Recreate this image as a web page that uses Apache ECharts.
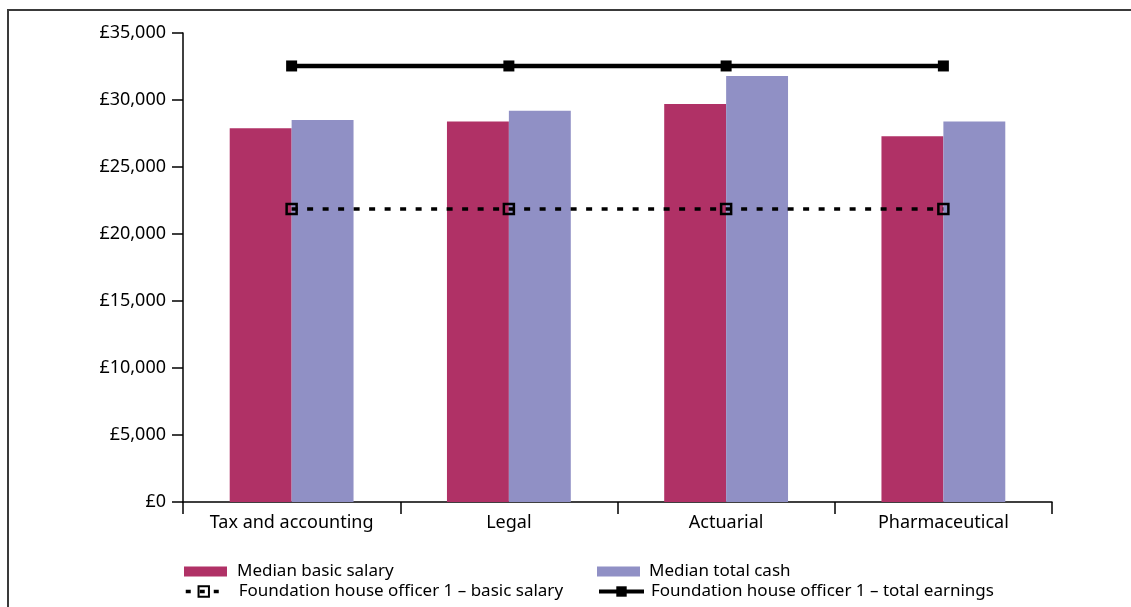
<!DOCTYPE html>
<html>
<head>
<meta charset="utf-8">
<script src="https://cdn.jsdelivr.net/npm/echarts@6/dist/echarts.min.js"></script>
<style>
  html, body { margin: 0; padding: 0; background: #fff; }
  #chart { width: 1131px; height: 607px; }
</style>
</head>
<body>
<div id="chart"></div>
<script>
// Salary comparison across sectors, with FY1 doctor pay as reference lines
const categories = ['Tax and accounting', 'Legal', 'Actuarial', 'Pharmaceutical'];
const medianBasic = [27900, 28400, 29700, 27300];
const medianTotal = [28500, 29200, 31800, 28400];
const fho1Basic = [21860, 21860, 21860, 21860];
const fho1Total = [32540, 32540, 32540, 32540];
const yTicks = { min: 0, max: 35000, interval: 5000 };

const FONT = '"Noto Sans", "Open Sans", sans-serif';
const chart = echarts.init(document.getElementById('chart'), null, { renderer: 'canvas' });

function legendItem(left, top, width, height, gap, item) {
  return {
    left: left, top: top,
    padding: 0,
    orient: 'horizontal',
    itemWidth: width,
    itemHeight: height,
    selectedMode: false,
    textStyle: { fontFamily: FONT, fontSize: 17, color: '#000', padding: [0, 0, 0, gap] },
    data: [item]
  };
}

chart.setOption({
  animation: false,
  backgroundColor: '#fff',
  graphic: [{
    type: 'rect',
    shape: { x: 8, y: 10, width: 1140, height: 620 },
    style: { fill: 'none', stroke: '#3a3a3a', lineWidth: 2 },
    silent: true
  }],
  grid: { left: 183, right: 79, top: 33, bottom: 105, containLabel: false },
  legend: [
    legendItem(184, 563, 43, 10, 5, { name: 'Median basic salary', icon: 'rect' }),
    legendItem(597, 563, 43, 10, 4, { name: 'Median total cash', icon: 'rect' }),
    legendItem(184, 583, 36, 13, 12, {
      name: 'Foundation house officer 1 – basic salary',
      lineStyle: { width: 3.5, type: [5, 9], color: '#000' }
    }),
    legendItem(597, 583, 45, 13, 2, {
      name: 'Foundation house officer 1 – total earnings',
      lineStyle: { width: 4, color: '#000' }
    })
  ],
  xAxis: {
    type: 'category',
    data: categories,
    boundaryGap: true,
    axisLine: { show: true, lineStyle: { color: '#000', width: 1.5 } },
    axisTick: { show: true, length: 12, alignWithLabel: false, lineStyle: { color: '#000', width: 1.5 } },
    axisLabel: { color: '#000', fontFamily: FONT, fontSize: 18, margin: 12 },
    splitLine: { show: false }
  },
  yAxis: {
    type: 'value',
    min: yTicks.min,
    max: yTicks.max,
    interval: yTicks.interval,
    axisLine: { show: true, lineStyle: { color: '#000', width: 1.5 } },
    axisTick: { show: true, length: 11, lineStyle: { color: '#000', width: 1.5 } },
    axisLabel: {
      color: '#000', fontFamily: FONT, fontSize: 18, margin: 17,
      formatter: v => '£' + v.toLocaleString('en-GB')
    },
    splitLine: { show: false }
  },
  series: [
    {
      name: 'Median basic salary',
      type: 'bar',
      data: medianBasic,
      barGap: '0%',
      barCategoryGap: '43%',
      itemStyle: { color: '#b03166' },
      z: 1
    },
    {
      name: 'Median total cash',
      type: 'bar',
      data: medianTotal,
      barGap: '0%',
      barCategoryGap: '43%',
      itemStyle: { color: '#9090c5' },
      z: 1
    },
    {
      name: 'Foundation house officer 1 – basic salary',
      type: 'line',
      data: fho1Basic,
      symbol: 'rect',
      symbolSize: 10,
      lineStyle: { color: '#000', width: 3.5, type: [6, 9.5] },
      itemStyle: { color: 'rgba(0,0,0,0)', borderColor: '#000', borderWidth: 2.5 },
      z: 3
    },
    {
      name: 'Foundation house officer 1 – total earnings',
      type: 'line',
      data: fho1Total,
      symbol: 'rect',
      symbolSize: 11,
      lineStyle: { color: '#000', width: 4.5 },
      itemStyle: { color: '#000' },
      z: 3
    }
  ]
});
</script>
</body>
</html>
